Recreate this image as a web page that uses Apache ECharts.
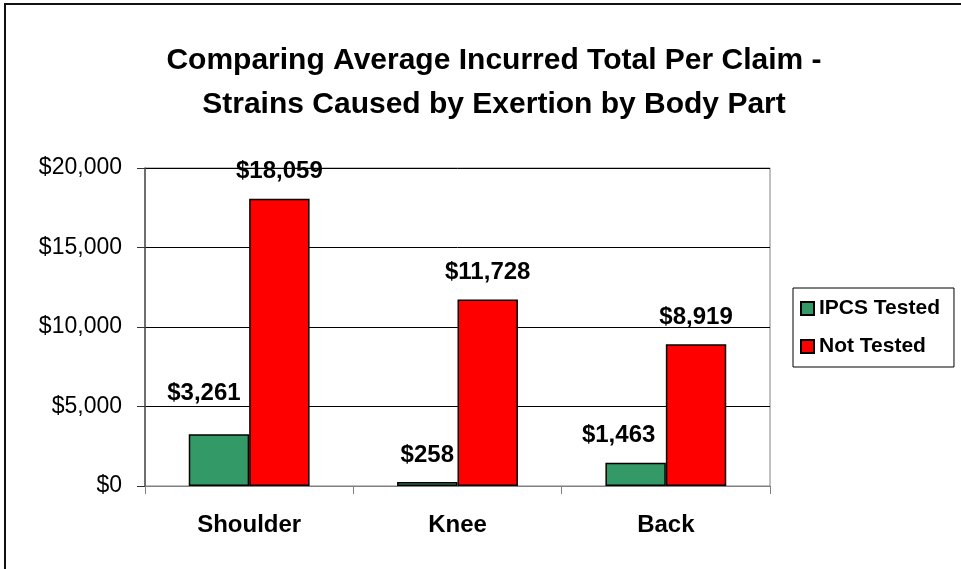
<!DOCTYPE html>
<html>
<head>
<meta charset="utf-8">
<script src="https://cdn.jsdelivr.net/npm/echarts@6/dist/echarts.min.js"></script>
<style>
  html, body { margin: 0; padding: 0; background: #fff; overflow: hidden; }
  #wrap { position: relative; width: 961px; height: 569px; }
  #chart { width: 961px; height: 569px; }
  #frame { position: absolute; left: 4px; top: 3px; width: 1000px; height: 1000px;
           border: 2px solid #111; pointer-events: none; }
</style>
</head>
<body>
<div id="wrap">
  <div id="chart"></div>
  <div id="frame"></div>
</div>
<script>
// values
const bodyParts = ["Shoulder", "Knee", "Back"];
const ipcsTested = [3261, 258, 1463];
const notTested = [18059, 11728, 8919];
const yTicks = { min: 0, max: 20000, step: 5000 };

// hand-placed label nudges in the original (x, y in px)
const testedNudge = [[-15, -14], [0, 0], [-17, 0]];

const money = v => "$" + Number(v).toLocaleString("en-US");
const FONT = "Liberation Sans, Arial, sans-serif";

const labelStyle = {
  show: true, position: "top", distance: 15,
  fontFamily: FONT, fontWeight: "bold", fontSize: 24, color: "#000",
  formatter: p => money(p.value),
};

const chart = echarts.init(document.getElementById("chart"), null, { renderer: "canvas" });
chart.setOption({
  animation: false,
  backgroundColor: "#fff",
  title: {
    text: "Comparing Average Incurred Total Per Claim -\nStrains Caused by Exertion by Body Part",
    left: 489, top: 34, textAlign: "center",
    textStyle: { fontFamily: FONT, fontWeight: "bold", fontSize: 30, lineHeight: 44, color: "#000" },
  },
  legend: {
    orient: "vertical", left: 793, top: 288,
    backgroundColor: "#fff", borderColor: "#000", borderWidth: 1,
    padding: [10, 14, 10, 7],
    itemGap: 17, itemWidth: 13, itemHeight: 13, icon: "rect",
    textStyle: { fontFamily: FONT, fontWeight: "bold", fontSize: 21, color: "#000" },
    data: ["IPCS Tested", "Not Tested"],
  },
  grid: { left: 145, right: 191, top: 168, bottom: 83, show: true, borderColor: "#808080", borderWidth: 1 },
  xAxis: {
    type: "category", data: bodyParts,
    axisLine: { lineStyle: { color: "#808080", width: 1 } },
    axisTick: { show: true, length: 8, lineStyle: { color: "#808080" } },
    axisLabel: { margin: 27, fontFamily: FONT, fontWeight: "bold", fontSize: 24, color: "#000" },
  },
  yAxis: {
    type: "value", min: yTicks.min, max: yTicks.max, interval: yTicks.step,
    axisLine: { show: true, lineStyle: { color: "#555", width: 1.5 } },
    axisTick: { show: true, length: 8, lineStyle: { color: "#333" } },
    axisLabel: { margin: 23, fontFamily: FONT, fontSize: 23, color: "#000", formatter: money },
    splitLine: { lineStyle: { color: "#000", width: 1 } },
  },
  series: [
    {
      name: "IPCS Tested", type: "bar", barGap: "0%", barCategoryGap: "42%",
      itemStyle: { color: "#339966", borderColor: "#000", borderWidth: 1.5 },
      label: labelStyle,
      data: ipcsTested.map((v, i) => ({ value: v, label: { offset: testedNudge[i] } })),
    },
    {
      name: "Not Tested", type: "bar", barGap: "0%", barCategoryGap: "42%",
      itemStyle: { color: "#ff0000", borderColor: "#000", borderWidth: 1.5 },
      label: labelStyle,
      data: notTested,
    },
  ],
});
</script>
</body>
</html>
